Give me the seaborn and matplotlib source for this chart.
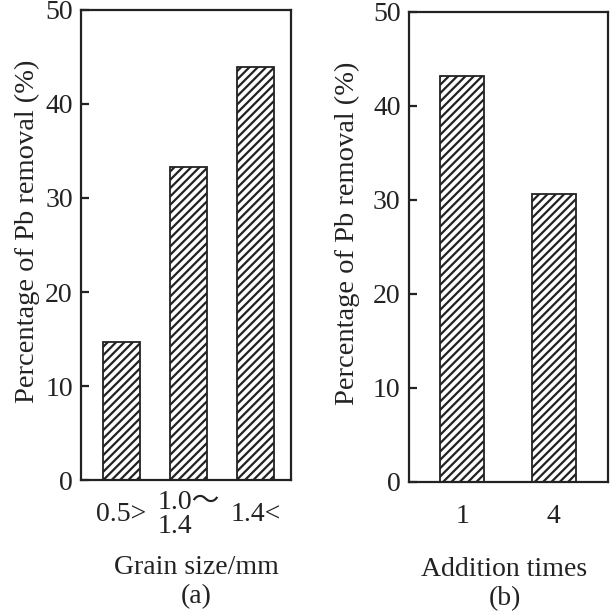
import pandas as pd
import seaborn as sns
import matplotlib.pyplot as plt

grain_sizes = ['0.5>', '1.0～\n1.4', '1.4<']
grain_removal = [14.7, 33.3, 43.9]

addition_times = ['1', '4']
addition_removal = [43.2, 30.6]

df_a = pd.DataFrame({'grain': grain_sizes, 'removal': grain_removal})
df_b = pd.DataFrame({'times': addition_times, 'removal': addition_removal})

sns.set_style('ticks')
plt.rcParams['font.family'] = ['Liberation Serif', 'Noto Sans CJK SC', 'DejaVu Sans']
plt.rcParams['hatch.linewidth'] = 1.6
plt.rcParams['text.color'] = '#222222'
plt.rcParams['axes.labelcolor'] = '#222222'
plt.rcParams['xtick.color'] = '#222222'
plt.rcParams['ytick.color'] = '#222222'

fig = plt.figure(figsize=(6.1, 6.14), dpi=100)
ax_a = fig.add_axes([0.133, 0.218, 0.344, 0.766])
ax_b = fig.add_axes([0.6705, 0.215, 0.326, 0.766])

sns.barplot(data=df_a, x='grain', y='removal', color='white', edgecolor='#222222',
            linewidth=1.3, width=0.56, hatch='////', saturation=1, ax=ax_a)
sns.barplot(data=df_b, x='times', y='removal', color='white', edgecolor='#222222',
            linewidth=1.3, width=0.48, hatch='////', saturation=1, ax=ax_b)

ax_a.set_xlim(-0.6, 2.53)
ax_b.set_xlim(-0.58, 1.59)

for ax, xlab in [(ax_a, 'Grain size/mm\n(a)'), (ax_b, 'Addition times\n(b)')]:
    ax.set_ylim(0, 50)
    ax.set_yticks([0, 10, 20, 30, 40, 50])
    ax.set_ylabel('Percentage of Pb removal (%)', fontsize=20.5)
    ax.set_xlabel(xlab, fontsize=20, linespacing=1.2)
    for s in ax.spines.values():
        s.set_visible(True)
        s.set_linewidth(1.6)
        s.set_color('#222222')
    ax.tick_params(axis='y', direction='in', length=6, width=1.6, labelsize=20, pad=6)
    ax.tick_params(axis='x', length=0, labelsize=20, pad=25)
    for lab in ax.get_xticklabels():
        lab.set_verticalalignment('center')
        lab.set_multialignment('left')
        lab.set_linespacing(0.95)

# label placement as in the original figure
ax_a.yaxis.set_label_coords(-0.195, 0.53)
ax_b.yaxis.set_label_coords(-0.246, 0.528)
ax_a.xaxis.set_label_coords(0.55, -0.16)
ax_b.xaxis.set_label_coords(0.48, -0.16)

fig.savefig('out.png', dpi=100)
